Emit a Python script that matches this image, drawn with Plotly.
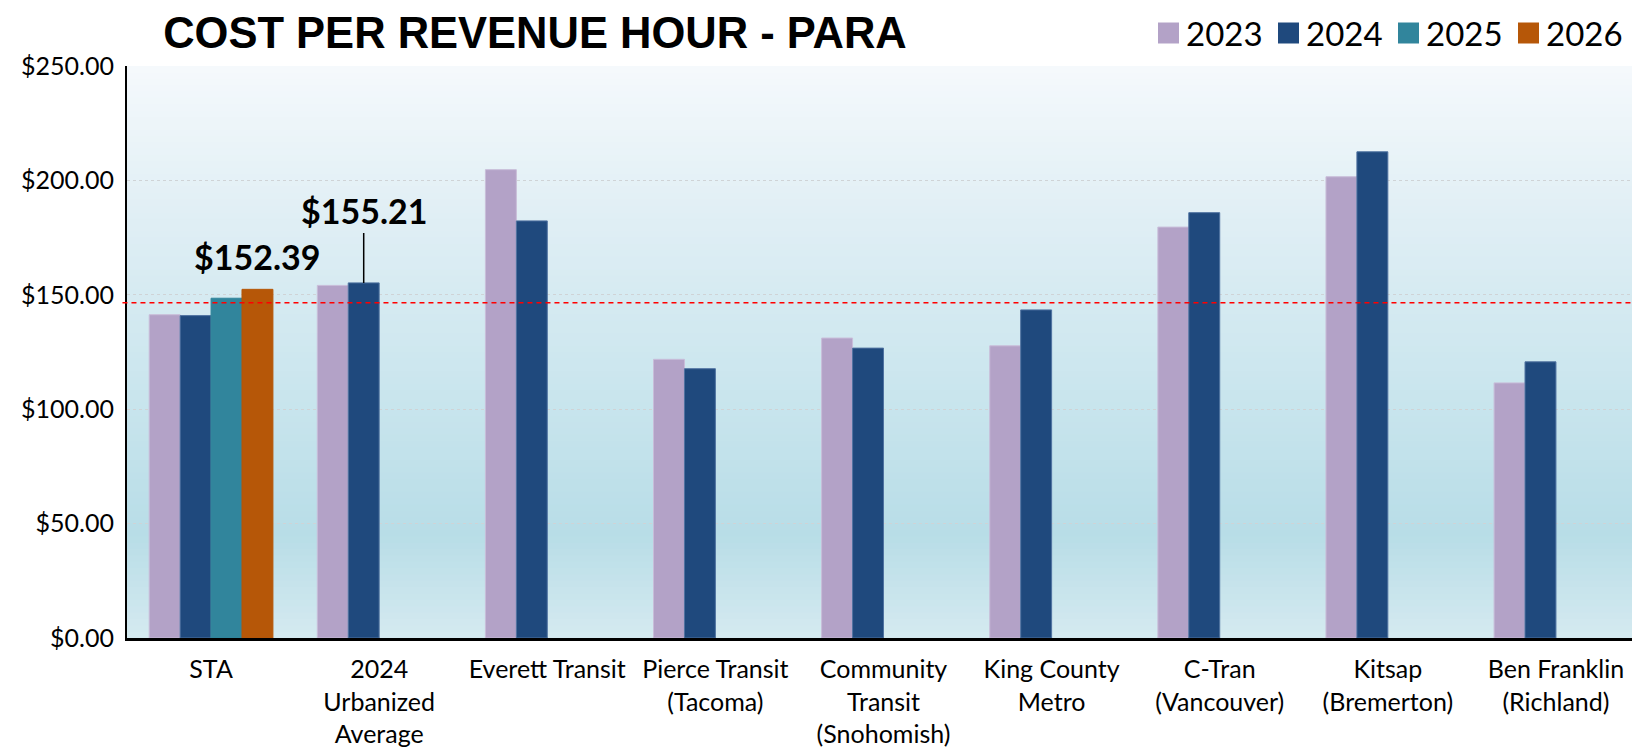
import plotly.graph_objects as go

# ---------------- data ----------------
categories = [
    "STA",
    "2024<br>Urbanized<br>Average",
    "Everett Transit",
    "Pierce Transit<br>(Tacoma)",
    "Community<br>Transit<br>(Snohomish)",
    "King County<br>Metro",
    "C-Tran<br>(Vancouver)",
    "Kitsap<br>(Bremerton)",
    "Ben Franklin<br>(Richland)",
]
years = ["2023", "2024", "2025", "2026"]
values_2023 = [141.3, 154.1, 204.7, 121.8, 131.1, 127.7, 179.6, 201.6, 111.5]
values_2024 = [140.9, 155.21, 182.3, 117.7, 126.7, 143.4, 185.9, 212.5, 120.7]
values_2025 = [148.5, None, None, None, None, None, None, None, None]
values_2026 = [152.39, None, None, None, None, None, None, None, None]
reference_line = 146.5
y_ticks = [0, 50, 100, 150, 200, 250]
y_tick_labels = ["$%.2f" % v for v in y_ticks]
title_text = "COST PER REVENUE HOUR - PARA"

colors = ["#b3a2c7", "#1f497d", "#31859c", "#b65708"]
edge_colors = ["#c9bdd9", "#4f72a0", "#31859c", "#b65708"]
series = [values_2023, values_2024, values_2025, values_2026]

# ---------------- geometry ----------------
# the page body has an 8px default margin, so the figure is drawn 8px in
W, H = 1632, 741
ML, MR, MT, MB = 119, 0, 58, 111
PW = W - ML - MR
PH = H - MT - MB
BARGAP = 0.264
FONT = "Lato"
TITLE_FONT = "Liberation Sans"


def px_x(px):
    return (px - ML) / PW


def px_y(py):
    return 1 + (MT - py) / PH


fig = go.Figure()
for name, vals, c, ec in zip(years, series, colors, edge_colors):
    fig.add_trace(go.Bar(
        name=name, x=categories, y=vals,
        marker=dict(color=c, line=dict(color=ec, width=1)),
        showlegend=False,
        hovertemplate="%{x}<br>" + name + ": $%{y:.2f}<extra></extra>",
    ))

shapes = []

# gradient background (decorative), stacked strips in paper coords
stops = [(0.0, (0xd5, 0xea, 0xf0)), (0.18, (0xb8, 0xdd, 0xe7)),
         (0.45, (0xcb, 0xe6, 0xee)), (0.75, (0xe1, 0xef, 0xf5)),
         (1.0, (0xf5, 0xf9, 0xfc))]


def grad(t):
    for (t0, c0), (t1, c1) in zip(stops[:-1], stops[1:]):
        if t0 <= t <= t1:
            f = (t - t0) / (t1 - t0)
            return "rgb(%d,%d,%d)" % tuple(round(a + (b - a) * f) for a, b in zip(c0, c1))
    return "rgb(%d,%d,%d)" % stops[-1][1]


N = 90
for i in range(N):
    y0 = i / N
    y1 = min((i + 1) / N + 0.002, 1)
    shapes.append(dict(type="rect", xref="paper", yref="paper", x0=0, x1=1,
                       y0=y0, y1=y1, line=dict(width=0),
                       fillcolor=grad((i + 0.5) / N), layer="below"))

# red dashed reference line
shapes.append(dict(type="line", xref="paper", yref="y", x0=-0.003, x1=0.998,
                   y0=reference_line, y1=reference_line,
                   line=dict(color="#ff0000", width=1.6, dash="5px,4px"), layer="above"))

annotations = []
slot = (1 - BARGAP) / 4
off_2026 = -(1 - BARGAP) / 2 + slot * 3.5
off_2024 = -(1 - BARGAP) / 2 + slot * 1.5
annotations.append(dict(x=0 + off_2026, y=values_2026[0], xref="x", yref="y",
                        text="<b>$%.2f</b>" % values_2026[0], showarrow=False,
                        yanchor="middle", yshift=33,
                        font=dict(family=FONT, size=34, color="black")))
annotations.append(dict(x=1 + off_2024, y=values_2024[1], xref="x", yref="y",
                        text="<b>$%.2f</b>" % values_2024[1], showarrow=True,
                        arrowhead=0, arrowwidth=1.5, arrowcolor="black",
                        ax=0, ay=-72, standoff=0,
                        font=dict(family=FONT, size=34, color="black")))

# manual legend (top right)
leg_x0 = 1150
leg_step = 120
sq = 21
leg_yc = 25
for i, (name, c) in enumerate(zip(years, colors)):
    x0 = leg_x0 + i * leg_step
    shapes.append(dict(type="rect", xref="paper", yref="paper",
                       x0=px_x(x0), x1=px_x(x0 + sq),
                       y0=px_y(leg_yc + sq / 2), y1=px_y(leg_yc - sq / 2),
                       fillcolor=c, line=dict(width=0)))
    annotations.append(dict(xref="paper", yref="paper", x=px_x(x0 + sq + 5),
                            y=px_y(leg_yc), xanchor="left", yanchor="middle",
                            showarrow=False, text=name,
                            font=dict(family=FONT, size=33, color="black")))

fig.update_layout(
    width=W, height=H,
    margin=dict(l=ML, r=MR, t=MT, b=MB, pad=0),
    paper_bgcolor="white",
    plot_bgcolor="#d0e8ef",
    barmode="group", bargap=BARGAP, bargroupgap=0,
    title=dict(text="<b>" + title_text + "</b>", x=527 / W, xanchor="center",
               xref="container", y=1 - 24.8 / H, yref="container", yanchor="middle",
               font=dict(family=TITLE_FONT, size=43.5, color="black")),
    xaxis=dict(showline=True, linecolor="black", linewidth=3, showgrid=False,
               ticks="outside", ticklen=7, tickcolor="rgba(0,0,0,0)",
               tickfont=dict(family=FONT, size=25, color="black"),
               tickangle=0, fixedrange=True, automargin=False),
    yaxis=dict(range=[0, 250], tickmode="array", tickvals=y_ticks, ticktext=y_tick_labels,
               showline=True, linecolor="black", linewidth=2,
               showgrid=True, gridcolor="#cfd3d6", griddash="dot", gridwidth=1,
               zeroline=False,
               ticks="outside", ticklen=6, tickcolor="rgba(0,0,0,0)",
               tickfont=dict(family=FONT, size=25, color="black"),
               fixedrange=True, automargin=False),
    shapes=shapes,
    annotations=annotations,
    showlegend=False,
)

fig.write_html("out.html")
